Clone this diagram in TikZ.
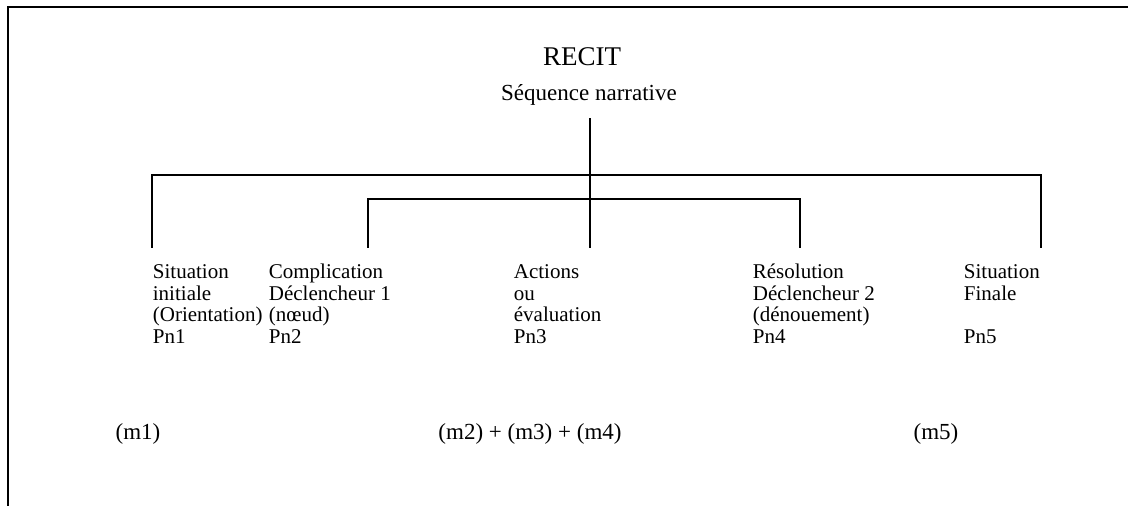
\documentclass[tikz,border=0pt]{standalone}
\usepackage{fontspec}
\setmainfont{Liberation Serif}
\usetikzlibrary{positioning}

\begin{document}
\begin{tikzpicture}[line cap=rect,line join=miter,x=0.5pt,y=-0.5pt,line width=0.9pt,
  colonne/.style={anchor=north west,inner sep=0pt,align=left,font=\fontsize{10.5}{10.75}\selectfont},
  etiquette/.style={inner sep=0pt,font=\fontsize{11.5}{12}\selectfont}]
\useasboundingbox (0,0) rectangle (1128,506);
% cadre
\coordinate (c0) at (8,7);
\coordinate (c1) at (1128,7);
\coordinate (c2) at (8,506);
\draw (c1)-- (c0);
\draw (c0)-- (c2);
% titres
\node[etiquette,anchor=base,font=\fontsize{13.5}{14}\selectfont] (recit) at (582,66) {RECIT};
\node[etiquette,anchor=base] (seq) at (589,101) {Séquence narrative};
% colonnes
\node[colonne] (p1) at (152,263) {\strut Situation\\initiale\\(Orientation)\\Pn1};
\node[colonne] (p2) at (268,263) {\strut Complication\\Déclencheur 1\\(nœud)\\Pn2};
\node[colonne] (p3) at (513,263) {\strut Actions\\ou\\évaluation\\Pn3};
\node[colonne] (p4) at (752,263) {\strut Résolution\\Déclencheur 2\\(dénouement)\\Pn4};
\node[colonne] (p5) at (963,263) {\strut Situation\\Finale\\~\\Pn5};
% macro-propositions
\node[etiquette,anchor=base] (m1) at (138,440) {(m1)};
\node[etiquette,anchor=base] (m234) at (530,440) {(m2) + (m3) + (m4)};
\node[etiquette,anchor=base] (m5) at (936,440) {(m5)};
% arbre
\coordinate (t0) at (590,247);
\coordinate (a1) at (152,247);
\coordinate (a5) at (1041,247);
\coordinate (b2) at (368,247);
\coordinate (b4) at (800,247);
\draw ([yshift=-6pt]seq.south -| t0)-- (t0);
\draw (a1)-- ++(0,-72) -| (a5);
\draw (b2)-- ++(0,-48) -| (b4);
\end{tikzpicture}
\end{document}
